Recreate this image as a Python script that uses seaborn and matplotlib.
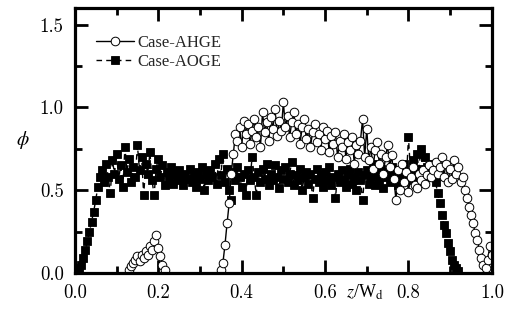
import numpy as np
import pandas as pd
import matplotlib
matplotlib.use("Agg")
import matplotlib.pyplot as plt
import seaborn as sns
from matplotlib.ticker import MultipleLocator

# ---- data ----
z_step = 0.005
phi_aoge = [
    0.00, 0.01, 0.03, 0.05, 0.09, 0.14, 0.19, 0.25, 0.31, 0.37,
    0.44, 0.52, 0.58, 0.62, 0.55, 0.66, 0.58, 0.48, 0.68, 0.60,
    0.72, 0.57, 0.65, 0.52, 0.76, 0.61, 0.69, 0.55, 0.64, 0.58,
    0.77, 0.62, 0.70, 0.47, 0.66, 0.60, 0.73, 0.56, 0.47, 0.63,
    0.69, 0.58, 0.65, 0.53, 0.61, 0.57, 0.64, 0.54, 0.60, 0.56,
    0.62, 0.58, 0.53, 0.60, 0.57, 0.63, 0.55, 0.59, 0.52, 0.61,
    0.57, 0.64, 0.50, 0.60, 0.56, 0.62, 0.58, 0.66, 0.54, 0.69,
    0.59, 0.72, 0.55, 0.63, 0.50, 0.44, 0.61, 0.56, 0.64, 0.58,
    0.52, 0.60, 0.47, 0.62, 0.56, 0.70, 0.58, 0.47, 0.61, 0.55,
    0.63, 0.57, 0.66, 0.53, 0.60, 0.56, 0.65, 0.58, 0.51, 0.62,
    0.57, 0.64, 0.55, 0.60, 0.67, 0.53, 0.59, 0.56, 0.63, 0.50,
    0.58, 0.61, 0.54, 0.60, 0.45, 0.57, 0.63, 0.55, 0.59, 0.52,
    0.61, 0.56, 0.64, 0.53, 0.58, 0.45, 0.60, 0.55, 0.62, 0.57,
    0.52, 0.59, 0.63, 0.54, 0.58, 0.50, 0.61, 0.56, 0.44, 0.59,
    0.62, 0.54, 0.58, 0.66, 0.53, 0.60, 0.56, 0.63, 0.51, 0.58,
    0.61, 0.55, 0.64, 0.57, 0.60, 0.53, 0.62, 0.58, 0.66, 0.56,
    0.82, 0.61, 0.68, 0.57, 0.72, 0.63, 0.75, 0.60, 0.70, 0.64,
    0.58, 0.66, 0.60, 0.55, 0.48, 0.42, 0.35, 0.29, 0.24, 0.18,
    0.13, 0.08, 0.05, 0.03, 0.01, 0.00, 0.00, 0.00, 0.00, 0.00,
    0.00, 0.00, 0.00, 0.00, 0.00, 0.00, 0.00, 0.00, 0.00, 0.00,
    0.00,
]
phi_ahge = [
    0.00, 0.00, 0.00, 0.00, 0.00, 0.00, 0.00, 0.00, 0.00, 0.00,
    0.00, 0.00, 0.00, 0.00, 0.00, 0.00, 0.00, 0.00, 0.00, 0.00,
    0.00, 0.00, 0.00, 0.00, 0.00, 0.00, 0.02, 0.04, 0.06, 0.08,
    0.10, 0.07, 0.11, 0.09, 0.13, 0.11, 0.16, 0.14, 0.19, 0.23,
    0.15, 0.10, 0.05, 0.02, 0.00, 0.00, 0.00, 0.00, 0.00, 0.00,
    0.00, 0.00, 0.00, 0.00, 0.00, 0.00, 0.00, 0.00, 0.00, 0.00,
    0.00, 0.00, 0.00, 0.00, 0.00, 0.00, 0.00, 0.00, 0.00, 0.00,
    0.02, 0.06, 0.17, 0.30, 0.42, 0.60, 0.72, 0.84, 0.80, 0.88,
    0.76, 0.92, 0.84, 0.90, 0.78, 0.86, 0.93, 0.82, 0.88, 0.76,
    0.97, 0.85, 0.91, 0.80, 0.94, 0.87, 0.99, 0.83, 0.92, 0.86,
    1.03, 0.88, 0.95, 0.82, 0.91, 0.97, 0.84, 0.90, 0.78, 0.88,
    0.93, 0.81, 0.87, 0.76, 0.85, 0.90, 0.79, 0.84, 0.74, 0.88,
    0.81, 0.86, 0.73, 0.83, 0.78, 0.85, 0.70, 0.80, 0.76, 0.84,
    0.69, 0.79, 0.74, 0.82, 0.66, 0.77, 0.72, 0.80, 0.93, 0.70,
    0.87, 0.68, 0.76, 0.63, 0.74, 0.79, 0.66, 0.72, 0.60, 0.70,
    0.77, 0.64, 0.71, 0.57, 0.44, 0.62, 0.50, 0.66, 0.55, 0.61,
    0.49, 0.58, 0.64, 0.53, 0.51, 0.60, 0.56, 0.62, 0.54, 0.59,
    0.65, 0.58, 0.62, 0.67, 0.60, 0.64, 0.70, 0.58, 0.66, 0.55,
    0.63, 0.57, 0.68, 0.60, 0.64, 0.55, 0.58, 0.50, 0.45, 0.40,
    0.35, 0.30, 0.24, 0.20, 0.14, 0.09, 0.05, 0.03, 0.08, 0.16,
    0.11,
]
labels = ["Case-AHGE", "Case-AOGE"]

z_aoge = np.arange(len(phi_aoge)) * z_step
z_ahge = np.arange(len(phi_ahge)) * z_step
df_aoge = pd.DataFrame({"z": z_aoge, "phi": phi_aoge})
df_ahge = pd.DataFrame({"z": z_ahge, "phi": phi_ahge})

# markers only where the value is above zero (the zero stretches are a bare line)
mark_aoge = list(np.asarray(phi_aoge) > 0.005)
mark_ahge = list(np.asarray(phi_ahge) > 0.005)

# ---- style ----
sns.set_theme(style="white")
plt.rcParams["font.family"] = ["Liberation Serif", "DejaVu Serif"]
plt.rcParams["mathtext.fontset"] = "stix"
plt.rcParams["axes.formatter.use_mathtext"] = True

fig = plt.figure(figsize=(5.06, 3.26), dpi=100)
ax = fig.add_axes([0.148, 0.163, 0.824, 0.812])

sns.lineplot(data=df_aoge, x="z", y="phi", ax=ax, estimator=None, sort=False,
             color="black", linewidth=1.0, linestyle=(0, (4, 3)),
             marker="s", markersize=5.5, markerfacecolor="black",
             markeredgecolor="black", markeredgewidth=0.6,
             label=labels[1], legend=False)
line_aoge = ax.lines[-1]
sns.lineplot(data=df_ahge, x="z", y="phi", ax=ax, estimator=None, sort=False,
             color="black", linewidth=1.0, linestyle="-",
             marker="o", markersize=6.2, markerfacecolor="white",
             markeredgecolor="black", markeredgewidth=0.7,
             label=labels[0], legend=False)
line_ahge = ax.lines[-1]

ax.set_xlim(0, 1.0)
ax.set_ylim(0, 1.6)
ax.xaxis.set_major_locator(MultipleLocator(0.2))
ax.xaxis.set_minor_locator(MultipleLocator(0.1))
ax.yaxis.set_major_locator(MultipleLocator(0.5))
ax.yaxis.set_minor_locator(MultipleLocator(0.25))
ax.xaxis.set_major_formatter(plt.FormatStrFormatter("%.1f"))
ax.yaxis.set_major_formatter(plt.FormatStrFormatter("%.1f"))

ax.tick_params(which="both", direction="in", top=True, right=True,
               bottom=True, left=True, colors="black")
ax.tick_params(which="major", length=9.5, width=2.0, labelsize=13.5)
ax.tick_params(axis="x", which="major", pad=8)
ax.tick_params(axis="y", which="major", pad=8)
ax.tick_params(which="minor", length=5, width=2.0)
for lab in ax.get_xticklabels() + ax.get_yticklabels():
    lab.set_family("cmr10")

for s in ax.spines.values():
    s.set_linewidth(2.3)
    s.set_color("black")

ax.set_xlabel(r"$z$/W$_{\rm d}$", fontsize=13, color="black")
ax.xaxis.set_label_coords(0.695, -0.035)
ax.set_ylabel(r"$\phi$", fontsize=14, color="black", rotation=0)
ax.yaxis.set_label_coords(-0.125, 0.46)

# legend built before the marker masking so its handles keep a single marker
leg = ax.legend([line_ahge, line_aoge], labels,
                loc="upper left", bbox_to_anchor=(0.035, 0.925), frameon=False,
                fontsize=12, handlelength=2.3, handletextpad=0.2,
                labelspacing=0.2, borderaxespad=0.0)

line_aoge.set_markevery(mark_aoge)
line_ahge.set_markevery(mark_ahge)

fig.savefig("out.png", dpi=100)
